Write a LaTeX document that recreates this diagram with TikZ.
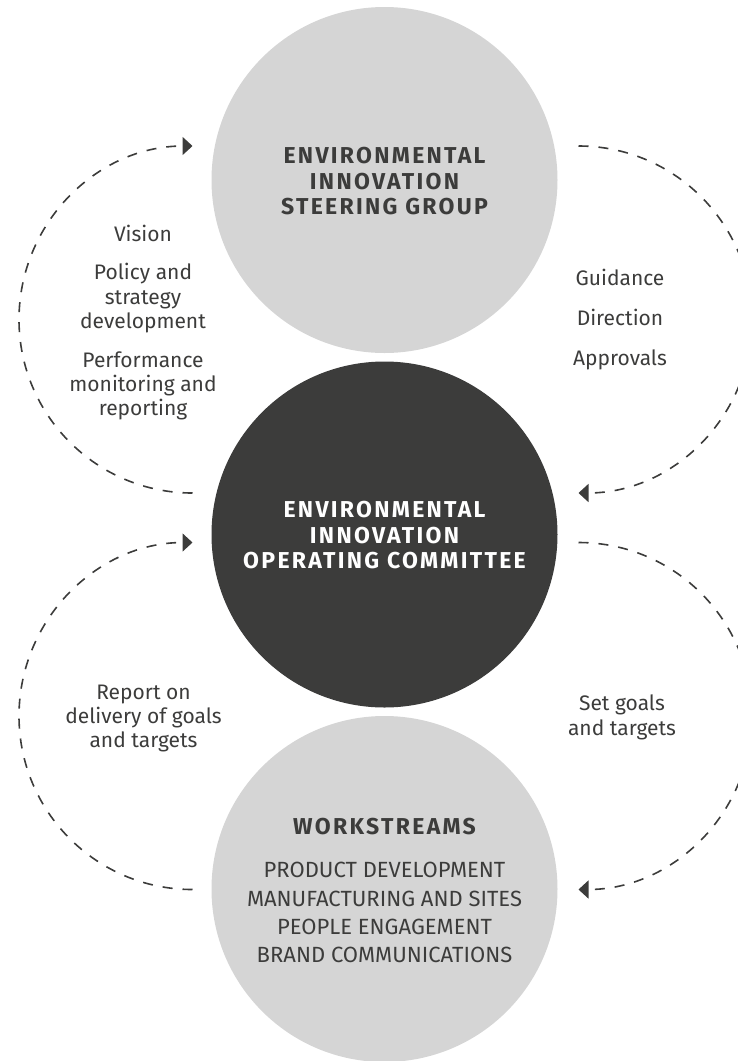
\documentclass[tikz,border=0pt]{standalone}
\usepackage{fontspec}
\setmainfont{Fira Sans}
\newfontfamily\capsfont[LetterSpace=10]{Fira Sans}
\usetikzlibrary{arrows.meta}
\definecolor{ink}{RGB}{60,60,59}
\definecolor{pale}{RGB}{213,213,213}
\begin{document}
\begin{tikzpicture}[x=1pt,y=1pt,
  disc/.style={circle, minimum size=346pt, inner sep=0pt, draw=none},
  flow/.style={draw=ink, line width=1.6pt, dash pattern=on 10pt off 10pt,
    -{Triangle[length=10pt,width=18pt]}},
  lbl/.style={font=\fontsize{21}{24}\selectfont, text=ink, anchor=base, inner sep=0pt},
  hd/.style={font=\capsfont\bfseries\fontsize{23}{24}\selectfont, anchor=base, inner sep=0pt},
  ws/.style={font=\fontsize{22}{24}\selectfont, text=ink, anchor=base, inner sep=0pt}]
\useasboundingbox (0,0) rectangle (738,-1061);
\clip (0,0) rectangle (738,-1061);

% circles
\node[disc, fill=pale] (steer) at (384.5,-180) {};
\node[disc, fill=ink] (oper) at (384.5,-534.5) {};
\node[disc, fill=pale] (work) at (384.5,-889) {};

% circle texts
\node[hd, text=ink] (s1) at (384.5,-163) {ENVIRONMENTAL};
\node[hd, text=ink] (s2) at (384.5,-189) {INNOVATION};
\node[hd, text=ink] (s3) at (384.5,-214) {STEERING GROUP};

\node[hd, text=white] (o1) at (384.5,-517) {ENVIRONMENTAL};
\node[hd, text=white] (o2) at (384.5,-543) {INNOVATION};
\node[hd, text=white] (o3) at (384.5,-568) {OPERATING COMMITTEE};

\node[hd, text=ink] (w0) at (384.5,-834) {WORKSTREAMS};
\node[ws] (w1) at (384.5,-877) {PRODUCT DEVELOPMENT};
\node[ws] (w2) at (384.5,-906) {MANUFACTURING AND SITES};
\node[ws] (w3) at (384.5,-934) {PEOPLE ENGAGEMENT};
\node[ws] (w4) at (384.5,-962) {BRAND COMMUNICATIONS};

% left upper labels
\node[lbl] (l1) at (143,-241) {Vision};
\node[lbl] (l2) at (143,-279) {Policy and};
\node[lbl] (l3) at (143,-304) {strategy};
\node[lbl] (l4) at (143,-328) {development};
\node[lbl] (l5) at (143,-367) {Performance};
\node[lbl] (l6) at (143,-391.5) {monitoring and};
\node[lbl] (l7) at (143,-415.5) {reporting};

% right upper labels
\node[lbl] (r1) at (620,-285) {Guidance};
\node[lbl] (r2) at (620,-325) {Direction};
\node[lbl] (r3) at (620,-365) {Approvals};

% lower left labels
\node[lbl] (b1) at (143.5,-699) {Report on};
\node[lbl] (b2) at (143.5,-723) {delivery of goals};
\node[lbl] (b3) at (143.5,-747) {and targets};

% lower right labels
\node[lbl] (c1) at (622,-710.5) {Set goals};
\node[lbl] (c2) at (622,-735) {and targets};

% dashed loops
\coordinate (ulS) at (192.5,-493);
\coordinate (urS) at (578.5,-146);
\coordinate (llS) at (192.5,-889.5);
\coordinate (lrS) at (578.5,-542.5);
\draw[flow] (ulS) arc[start angle=270, end angle=90, radius=173.5pt];
\draw[flow] (urS) arc[start angle=90, end angle=-90, radius=173.5pt];
\draw[flow] (llS) arc[start angle=270, end angle=90, radius=173.5pt];
\draw[flow] (lrS) arc[start angle=90, end angle=-90, radius=173.5pt];
\end{tikzpicture}
\end{document}
